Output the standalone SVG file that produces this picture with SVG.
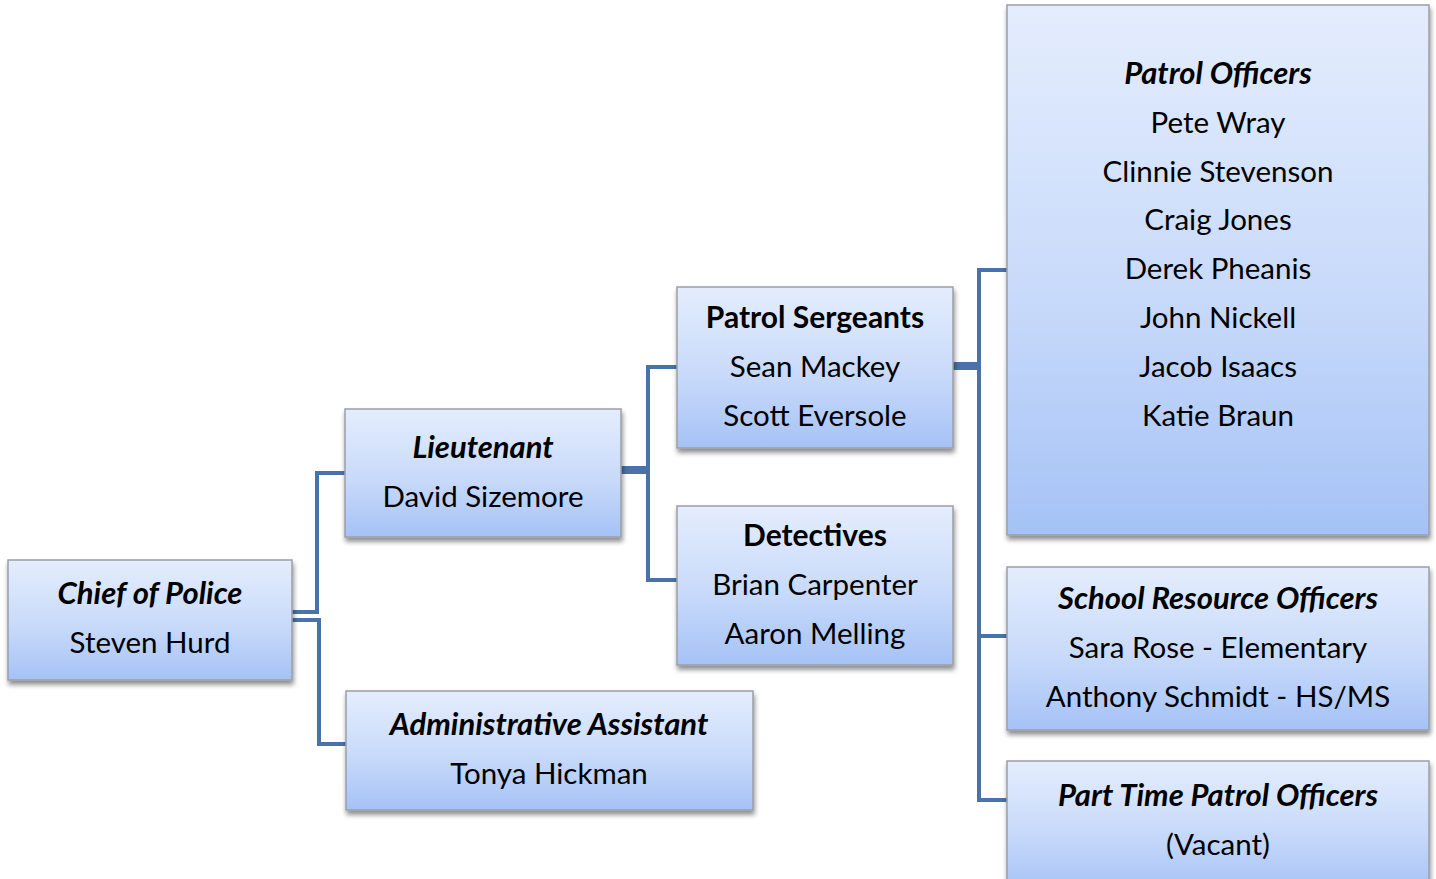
<svg xmlns="http://www.w3.org/2000/svg" width="1436" height="879" viewBox="0 0 1436 879">
<defs>
<linearGradient id="g" x1="0" y1="0" x2="0" y2="1">
<stop offset="0" stop-color="#e4edfd"/>
<stop offset="0.55" stop-color="#c8dafa"/>
<stop offset="1" stop-color="#a5c2f6"/>
</linearGradient>
<filter id="sh" x="-10%" y="-10%" width="125%" height="130%">
<feGaussianBlur in="SourceAlpha" stdDeviation="2.5"/>
<feOffset dx="1" dy="4" result="b"/>
<feComponentTransfer><feFuncA type="linear" slope="0.45"/></feComponentTransfer>
<feMerge><feMergeNode/><feMergeNode in="SourceGraphic"/></feMerge>
</filter>
</defs>
<style>
.box{fill:url(#g);stroke:#9a9ea6;stroke-width:1.5;filter:url(#sh)}
text{font-family:Lato,"Open Sans","Liberation Sans",sans-serif;font-size:29.5px;fill:#000;text-anchor:middle}
.bi{font-weight:bold;font-style:italic;font-size:31px}
.b{font-weight:bold;font-size:30px}
.c{fill:none;stroke:#4872a8;stroke-width:4}
.t{fill:none;stroke:#4872a8;stroke-width:8}
</style>
<g id="connectors">
<polyline class="c" points="292,612 317,612 317,473 345,473"/>
<polyline class="c" points="292,620 319,620 319,744 346,744"/>
<line class="t" x1="621" y1="470" x2="648" y2="470"/>
<polyline class="c" points="677,367 648,367 648,580 677,580"/>
<line class="t" x1="953" y1="366" x2="979" y2="366"/>
<polyline class="c" points="1007,270 979,270 979,800 1007,800"/>
<line class="c" x1="979" y1="636" x2="1007" y2="636"/>
</g>
<g id="chief">
<rect class="box" x="8" y="560" width="284" height="120"/>
<text class="bi" x="150" y="604">Chief of Police</text>
<text x="150" y="653">Steven Hurd</text>
</g>
<g id="lieutenant">
<rect class="box" x="345" y="409" width="276" height="128"/>
<text class="bi" x="483" y="458">Lieutenant</text>
<text x="483" y="507">David Sizemore</text>
</g>
<g id="admin">
<rect class="box" x="346" y="691" width="407" height="119"/>
<text class="bi" x="549" y="735">Administrative Assistant</text>
<text x="549" y="784">Tonya Hickman</text>
</g>
<g id="sergeants">
<rect class="box" x="677" y="287" width="276" height="161"/>
<text class="b" x="815" y="328">Patrol Sergeants</text>
<text x="815" y="377">Sean Mackey</text>
<text x="815" y="426">Scott Eversole</text>
</g>
<g id="detectives">
<rect class="box" x="677" y="506" width="276" height="159"/>
<text class="b" x="815" y="546">Detectives</text>
<text x="815" y="595">Brian Carpenter</text>
<text x="815" y="644">Aaron Melling</text>
</g>
<g id="patrol-officers">
<rect class="box" x="1007" y="5" width="422" height="530"/>
<text class="bi" x="1218" y="84">Patrol Officers</text>
<text x="1218" y="133">Pete Wray</text>
<text x="1218" y="182">Clinnie Stevenson</text>
<text x="1218" y="230">Craig Jones</text>
<text x="1218" y="279">Derek Pheanis</text>
<text x="1218" y="328">John Nickell</text>
<text x="1218" y="377">Jacob Isaacs</text>
<text x="1218" y="426">Katie Braun</text>
</g>
<g id="sro">
<rect class="box" x="1007" y="567" width="422" height="163"/>
<text class="bi" x="1218" y="609">School Resource Officers</text>
<text x="1218" y="658">Sara Rose - Elementary</text>
<text x="1218" y="707">Anthony Schmidt - HS/MS</text>
</g>
<g id="part-time">
<rect class="box" x="1007" y="761" width="422" height="130"/>
<text class="bi" x="1218" y="806">Part Time Patrol Officers</text>
<text x="1218" y="855">(Vacant)</text>
</g>
</svg>
